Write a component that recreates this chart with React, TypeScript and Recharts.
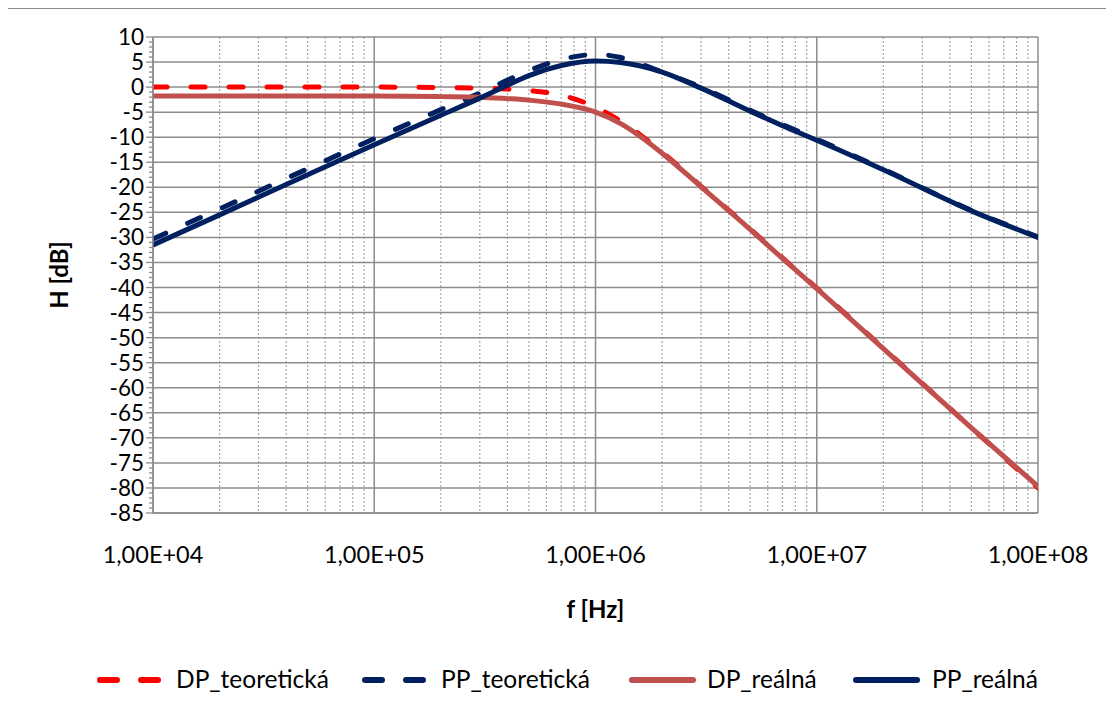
import React from 'react';
import { LineChart, Line, XAxis, YAxis, CartesianGrid } from 'recharts';

// frequencies [Hz]
const FREQ = [1e4, 2e4, 5e4, 1e5, 2e5, 3e5, 4e5, 5e5, 7e5, 1e6, 1.3e6, 1.6e6, 2e6, 3e6, 5e6, 7e6, 1e7, 2e7, 5e7, 1e8];
// H [dB]
const DP_TEOR = [0, 0, 0, 0, -0.1, -0.2, -0.4, -0.7, -1.6, -4.0, -6.8, -9.6, -13.0, -19.8, -28.3, -34.1, -40.1, -52.1, -68.0, -80.0];
const PP_TEOR = [-30.3, -24.3, -16.3, -10.3, -4.5, -1.2, 1.4, 3.3, 5.5, 6.5, 5.9, 4.6, 3.0, 0.0, -4.6, -7.5, -10.4, -16.4, -24.6, -29.9];
const DP_REAL = [-1.8, -1.8, -1.8, -1.8, -1.9, -2.0, -2.3, -2.6, -3.4, -5.0, -7.3, -9.9, -13.2, -19.9, -28.4, -34.2, -40.2, -52.2, -68.0, -79.7];
const PP_REAL = [-31.5, -25.5, -17.5, -11.5, -5.6, -2.2, 0.4, 2.3, 4.3, 5.2, 4.9, 4.2, 3.0, -0.2, -4.8, -7.7, -10.6, -16.5, -24.7, -30.0];

const X_TICKS = [1e4, 1e5, 1e6, 1e7, 1e8];
const X_TICK_LABELS = ['1,00E+04', '1,00E+05', '1,00E+06', '1,00E+07', '1,00E+08'];
const X_DECADES = [1e4, 1e5, 1e6, 1e7];
const X_MINOR_FACTORS = [2, 3, 4, 5, 6, 7, 8, 9];
const X_MINOR = X_DECADES.flatMap((d) => X_MINOR_FACTORS.map((k) => k * d));
const Y_MAJOR = [10, 5, 0, -5, -10, -15, -20, -25, -30, -35, -40, -45, -50, -55, -60, -65, -70, -75, -80, -85];
const Y_ALL = Array.from({ length: 96 }, (_, i) => 10 - i);

const SERIES = [
  { key: 'dpT', name: 'DP_teoretická', color: '#FF0000', dashed: true, values: DP_TEOR },
  { key: 'ppT', name: 'PP_teoretická', color: '#002060', dashed: true, values: PP_TEOR },
  { key: 'dpR', name: 'DP_reálná', color: '#C0504D', dashed: false, values: DP_REAL },
  { key: 'ppR', name: 'PP_reálná', color: '#002060', dashed: false, values: PP_REAL },
];

const data = FREQ.map((f, i) => {
  const row: any = { f };
  SERIES.forEach((s) => (row[s.key] = s.values[i]));
  return row;
});

const FONT = 'Lato, "Open Sans", sans-serif';
const GRID = '#8c8c8c';

const minorGen = (args: any) => {
  const xAxis = args?.xAxis;
  if (xAxis && typeof xAxis.scale === 'function') {
    return X_MINOR.map((v) => xAxis.scale(v));
  }
  const off = args?.offset ?? { left: 145, width: 885 };
  return X_MINOR.map((v) => off.left + (off.width * (Math.log10(v) - 4)) / 4);
};

const YTick = (props: any) => {
  const { x, y, payload } = props;
  const v = payload.value;
  const major = v % 5 === 0;
  return (
    <g>
      <line x1={x - (major ? 7 : 4)} x2={x} y1={y} y2={y} stroke={GRID} strokeWidth={1.3} />
      {major && (
        <text x={x - 9} y={y} dy="0.355em" textAnchor="end" fontFamily={FONT} fontSize={22.5} fill="#000">
          {v}
        </text>
      )}
    </g>
  );
};

const YTitle = (props: any) => {
  const vb = props.viewBox;
  const cx = vb.x + 52;
  const cy = vb.y + vb.height / 2;
  return (
    <text x={cx} y={cy} transform={`rotate(-90 ${cx} ${cy})`} textAnchor="middle" dy="0.35em" fontFamily={FONT} fontWeight="bold" fontSize={24} fill="#000">
      H [dB]
    </text>
  );
};

const XTitle = (props: any) => {
  const vb = props.viewBox;
  return (
    <text x={vb.x + vb.width / 2} y={vb.y + 105} textAnchor="middle" fontFamily={FONT} fontWeight="bold" fontSize={24} fill="#000">
      f [Hz]
    </text>
  );
};

const LEGEND_POS = [
  { icon: 90, text: 168 },
  { icon: 355, text: 433 },
  { icon: 621, text: 699 },
  { icon: 845, text: 924 },
];

export default function App() {
  return (
    <div style={{ position: 'relative', left: -1, width: 1107, height: 709, borderLeft: '1px solid #8c8c8c', borderTop: '1px solid #8c8c8c', background: '#fff' }}>
      <LineChart width={1106} height={709} data={data} margin={{ top: 28, right: 76, bottom: 105, left: 0 }}>
        <CartesianGrid horizontal={false} verticalCoordinatesGenerator={minorGen} stroke="#a6a6a6" strokeDasharray="2 2" strokeWidth={1.2} />
        <CartesianGrid horizontalValues={Y_MAJOR} verticalValues={X_TICKS} stroke={GRID} strokeWidth={1.5} />
        <XAxis
          dataKey="f"
          type="number"
          scale="log"
          domain={[1e4, 1e8]}
          ticks={X_TICKS}
          tickFormatter={(v: number) => X_TICK_LABELS[X_TICKS.indexOf(v)] ?? ''}
          tickSize={0}
          tickMargin={33}
          height={100}
          axisLine={{ stroke: GRID, strokeWidth: 1.5 }}
          tick={{ fontFamily: FONT, fontSize: 23.5, fill: '#000' }}
          allowDataOverflow
          label={{ content: XTitle }}
        />
        <YAxis
          type="number"
          domain={[-85, 10]}
          ticks={Y_ALL}
          interval={0}
          width={145}
          tickSize={0}
          tickMargin={0}
          tickLine={false}
          axisLine={{ stroke: GRID, strokeWidth: 1.5 }}
          tick={YTick}
          allowDataOverflow
          label={{ content: YTitle }}
        />
        {SERIES.map((s) => (
          <Line
            key={s.key}
            dataKey={s.key}
            name={s.name}
            type="monotone"
            stroke={s.color}
            strokeWidth={5}
            strokeDasharray={s.dashed ? '14 24' : undefined}
            strokeLinecap="round"
            dot={false}
            activeDot={false}
            isAnimationActive={false}
          />
        ))}
      </LineChart>
      {SERIES.map((s, i) => (
        <div key={s.key} style={{ position: 'absolute', top: 657, left: LEGEND_POS[i].icon - 8, height: 28 }}>
          <svg width={80} height={28} style={{ position: 'absolute', left: 0, top: 0 }}>
            {s.dashed ? (
              <line x1={10} x2={71} y1={14} y2={14} stroke={s.color} strokeWidth={6} strokeLinecap="round" strokeDasharray="17 24" />
            ) : (
              <line x1={11} x2={72} y1={14} y2={14} stroke={s.color} strokeWidth={6} strokeLinecap="round" />
            )}
          </svg>
        </div>
      ))}
      {SERIES.map((s, i) => (
        <div key={s.key + 't'} style={{ position: 'absolute', top: 656, left: LEGEND_POS[i].text, height: 28, lineHeight: '28px', fontFamily: FONT, fontSize: 24.5, color: '#000', whiteSpace: 'nowrap' }}>
          {s.name}
        </div>
      ))}
    </div>
  );
}
